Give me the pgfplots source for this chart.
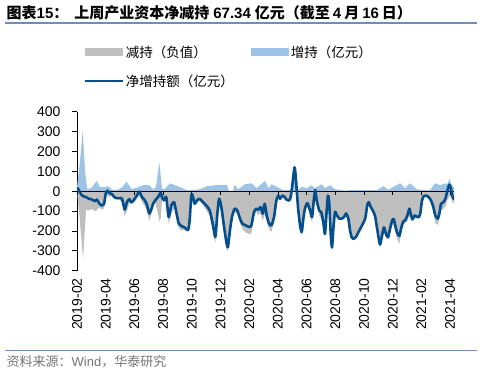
\documentclass[border=0pt]{standalone}
\usepackage{pgfplots}
\pgfplotsset{compat=1.18}
\usepackage{fontspec}
\setmainfont{Liberation Sans}
\newfontfamily\cjk{Noto Sans CJK SC}
\definecolor{graya}{RGB}{191,191,191}
\definecolor{bluea}{RGB}{157,195,230}
\definecolor{netc}{RGB}{5,78,140}
\definecolor{rulec}{RGB}{112,140,185}
\definecolor{foot}{RGB}{118,118,118}

\pgfplotstableread{
x y
0 -2
0.14 -100
0.28 -220
0.42 -340
0.63 -95
0.84 -95
1.05 -90
1.25 -100
1.39 -95
1.53 -82
1.74 -92
1.88 -85
2.02 -25
2.13 -20
2.23 -30
2.44 -22
2.65 -40
2.93 -42
3.14 -55
3.32 -125
3.48 -100
3.64 -60
3.78 -65
3.95 -60
4.18 -38
4.34 -22
4.53 -55
4.72 -75
4.88 -100
5.04 -150
5.23 -100
5.30 -75
5.46 -60
5.64 -110
5.74 -150
5.83 -140
5.92 -45
6.06 -53
6.22 -55
6.39 -165
6.57 -110
6.76 -85
6.92 -130
7.09 -185
7.27 -195
7.51 -195
7.74 -205
7.85 -150
7.97 -25
8.08 -33
8.20 -68
8.38 -53
8.55 -48
8.78 -70
9.01 -97
9.25 -122
9.48 -200
9.64 -260
9.78 -145
9.90 -70
10.06 -112
10.24 -207
10.42 -292
10.52 -300
10.66 -200
10.82 -122
10.99 -110
11.17 -110
11.36 -160
11.52 -190
11.76 -207
11.99 -215
12.15 -212
12.33 -130
12.49 -105
12.63 -120
12.80 -110
12.94 -150
13.08 -115
13.22 -150
13.38 -190
13.54 -205
13.73 -155
13.89 -70
14.03 -35
14.15 -45
14.31 -28
14.47 -35
14.61 -48
14.77 -52
14.89 -35
15.00 -5
15.16 -3
15.26 -5
15.40 -85
15.54 -185
15.66 -227
15.77 -160
15.89 -102
16.05 -78
16.24 -120
16.38 -160
16.52 -50
16.61 -10
16.70 -62
16.88 -120
17.02 -140
17.16 -180
17.28 -230
17.40 -120
17.49 -50
17.58 -93
17.68 -240
17.77 -300
17.86 -205
17.98 -115
18.10 -128
18.28 -145
18.45 -143
18.61 -135
18.75 -116
18.91 -142
19.02 -200
19.14 -238
19.25 -247
19.44 -236
19.60 -212
19.77 -190
19.95 -165
20.09 -140
20.23 -75
20.33 -60
20.47 -85
20.61 -102
20.77 -130
20.93 -200
21.11 -280
21.25 -245
21.39 -205
21.53 -225
21.67 -240
21.81 -210
21.95 -175
22.07 -170
22.18 -205
22.30 -240
22.46 -265
22.60 -210
22.74 -167
22.88 -160
23.02 -150
23.16 -125
23.25 -150
23.39 -152
23.53 -132
23.67 -138
23.81 -136
23.92 -117
24.04 -52
24.16 -30
24.32 -27
24.51 -35
24.67 -55
24.83 -105
24.97 -160
25.14 -170
25.25 -140
25.37 -95
25.53 -90
25.67 -78
25.81 -45
25.94 -25
26.06 -30
26.18 -55
26.27 -62
}\decdata

\pgfplotstableread{
x y
0 20
0.21 150
0.40 305
0.56 100
0.72 8
1.05 20
1.37 52
1.60 20
1.95 20
2.16 25
2.51 5
2.86 8
3.14 20
3.46 48
3.81 10
4.16 18
4.62 30
5.04 30
5.30 10
5.50 20
5.74 145
5.92 15
6.06 8
6.48 40
6.83 30
7.30 18
7.64 5
8.08 5
8.55 10
9.04 25
9.39 28
9.87 32
10.45 32
10.57 3
10.87 0
10.98 32
11.24 10
11.71 35
12.17 40
12.52 15
13.10 52
13.33 15
13.57 35
13.91 22
14.40 5
14.86 5
15.00 30
15.16 120
15.26 55
15.40 5
15.66 22
16.00 15
16.35 30
16.58 15
17.05 35
17.28 15
17.63 30
17.98 10
18.33 7
18.67 3
19.25 7
19.84 5
20.42 5
20.89 5
21.35 25
21.70 8
22.51 40
22.86 15
23.20 40
23.67 10
24.13 5
24.60 5
24.95 40
25.30 30
25.64 40
25.81 35
25.94 62
26.06 40
26.22 22
26.27 20
}\incdata

\pgfplotstableread{
x y
0 18
0.14 5
0.28 -15
0.42 -25
0.63 -30
0.84 -38
1.05 -42
1.25 -50
1.39 -42
1.53 -60
1.74 -72
1.88 -65
2.02 -5
2.13 3
2.23 -8
2.44 -15
2.65 -33
2.93 -35
3.14 -38
3.32 -92
3.48 -55
3.64 -40
3.78 -55
3.95 -45
4.18 -20
4.34 -2
4.53 -30
4.72 -45
4.88 -70
5.04 -112
5.23 -80
5.30 -63
5.46 -45
5.64 -30
5.83 -8
5.92 -30
6.06 -45
6.22 -30
6.39 -130
6.57 -72
6.76 -55
6.92 -105
7.09 -163
7.27 -175
7.51 -183
7.74 -195
7.85 -145
7.97 -20
8.08 -28
8.20 -63
8.38 -45
8.55 -38
8.78 -55
9.01 -72
9.25 -97
9.48 -172
9.64 -230
9.78 -113
9.90 -38
10.06 -80
10.24 -175
10.42 -260
10.52 -280
10.66 -195
10.82 -122
10.99 -88
11.17 -97
11.36 -138
11.52 -163
11.76 -172
11.99 -180
12.15 -172
12.33 -105
12.49 -88
12.63 -93
12.80 -80
12.94 -113
13.08 -63
13.22 -122
13.38 -163
13.54 -172
13.73 -130
13.89 -47
14.03 -22
14.15 -38
14.31 -22
14.47 -30
14.61 -43
14.77 -47
14.89 -30
15.00 28
15.16 120
15.26 55
15.40 -80
15.54 -170
15.66 -205
15.77 -140
15.89 -85
16.05 -60
16.24 -95
16.38 -130
16.52 -30
16.61 5
16.70 -45
16.88 -97
17.02 -105
17.16 -155
17.28 -215
17.40 -97
17.49 -22
17.58 -63
17.68 -215
17.77 -283
17.86 -190
17.98 -105
18.10 -120
18.28 -138
18.45 -138
18.61 -130
18.75 -112
18.91 -138
19.02 -195
19.14 -232
19.25 -240
19.44 -230
19.60 -207
19.77 -185
19.95 -160
20.09 -135
20.23 -70
20.33 -55
20.47 -80
20.61 -97
20.77 -125
20.93 -195
21.11 -268
21.25 -225
21.39 -182
21.53 -215
21.67 -232
21.81 -190
21.95 -148
22.07 -140
22.18 -173
22.30 -207
22.46 -225
22.60 -182
22.74 -152
22.88 -145
23.02 -122
23.16 -88
23.25 -113
23.39 -140
23.53 -122
23.67 -128
23.81 -130
23.92 -112
24.04 -47
24.16 -25
24.32 -22
24.51 -30
24.67 -47
24.83 -80
24.97 -122
25.14 -138
25.25 -112
25.37 -63
25.53 -55
25.67 -38
25.81 3
25.94 33
26.06 12
26.18 -30
26.27 -42
}\netdata

\begin{document}
\begin{tikzpicture}
\useasboundingbox (0,-373pt) rectangle (488pt,0);
\fill[white] (0,-373pt) rectangle (488pt,0);
\node[anchor=west, inner sep=0, font=\fontsize{15}{18}\selectfont\bfseries] at (6.5pt,-12.5pt)
 {{\cjk 图表}15{\cjk ：}\hspace{6pt}{\cjk 上周产业资本净减持}\hspace{4pt}67.34\hspace{4pt}{\cjk 亿元（截至}\hspace{3pt}4\hspace{3pt}{\cjk 月}\hspace{3pt}16\hspace{3pt}{\cjk 日）}};
\draw[rulec, line width=1.5pt] (5pt,-23pt) -- (477pt,-23pt);
\draw[rulec, line width=1.5pt] (5pt,-350.7pt) -- (477pt,-350.7pt);
\node[anchor=west, inner sep=0, font=\fontsize{13}{15}\selectfont, text=foot] at (6.5pt,-361.5pt)
 {{\cjk 资料来源：}Wind{\cjk ，华泰研究}};

% main axis: areas, y axis, bottom labels, legend
\begin{axis}[
  at={(77pt,-270.7pt)}, anchor=south west, scale only axis,
  width=377pt, height=159pt,
  xmin=0, xmax=26.27, ymin=-400, ymax=400,
  axis y line*=left, axis x line*=bottom,
  x axis line style={draw=none},
  y axis line style={black, line width=0.8pt, -},
  ytick={-400,-300,...,400},
  yticklabels={-400,-300,-200,-100,0,100,200,300,400},
  xtick={0,2,...,26},
  xticklabels={2019-02,2019-04,2019-06,2019-08,2019-10,2019-12,2020-02,2020-04,2020-06,2020-08,2020-10,2020-12,2021-02,2021-04},
  tick align=outside,
  major tick length=5pt,
  ytick style={black, line width=0.8pt},
  xtick style={draw=none},
  ticklabel style={font=\fontsize{14}{16}\selectfont},
  yticklabel style={xshift=-8pt},
  xticklabel style={rotate=90, anchor=east, inner sep=1pt, xshift=-1.5pt},
  legend columns=2,
  legend style={at={(0.016,1.43)}, anchor=north west, draw=none, fill=none,
     inner sep=0pt, font=\fontsize{13.5}{15}\selectfont, row sep=12pt,
     /tikz/every even column/.append style={column sep=15pt}},
  legend cell align=left,
]
\addplot[fill=graya, draw=none,
  legend image code/.code={\fill[graya] (0pt,-3.8pt) rectangle (38pt,3.8pt);}]
  table[x=x,y=y] {\decdata} \closedcycle;
\addlegendentry{\cjk 减持（负值）}
\addplot[fill=bluea, draw=none,
  legend image code/.code={\fill[bluea] (0pt,-3.8pt) rectangle (38pt,3.8pt);}]
  table[x=x,y=y] {\incdata} \closedcycle;
\addlegendentry{\cjk 增持（亿元）}
\addlegendimage{legend image code/.code={\draw[netc, line width=2.6pt] (0pt,0pt) -- (38pt,0pt);}}
\addlegendentry{\cjk 净增持额（亿元）}
\end{axis}

% zero line with ticks
\begin{axis}[
  at={(77pt,-270.7pt)}, anchor=south west, scale only axis,
  width=377pt, height=159pt,
  xmin=0, xmax=26.27, ymin=-400, ymax=400,
  axis x line=middle, axis y line=none,
  x axis line style={black, line width=0.8pt, -},
  xtick={0,2,...,26}, xticklabels={},
  tick align=outside, major tick length=3.5pt,
  xtick style={black, line width=0.8pt},
]
\end{axis}

% net line
\begin{axis}[
  at={(77pt,-270.7pt)}, anchor=south west, scale only axis,
  width=377pt, height=159pt,
  xmin=0, xmax=26.27, ymin=-400, ymax=400,
  hide axis,
]
\addplot[netc, line width=2.6pt, smooth, tension=0.4, line join=round] table[x=x,y=y] {\netdata};
\end{axis}
\end{tikzpicture}
\end{document}
